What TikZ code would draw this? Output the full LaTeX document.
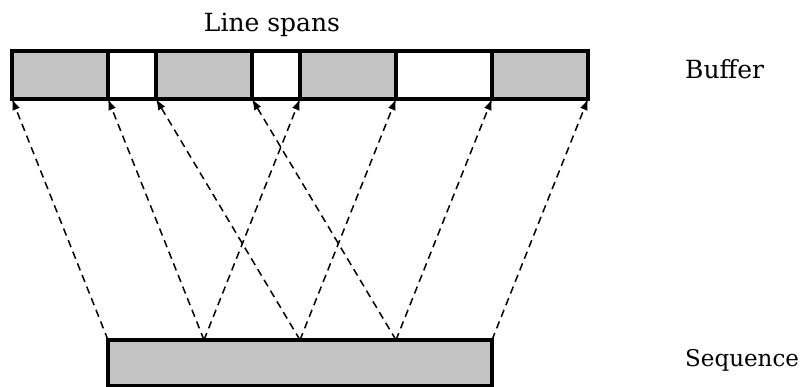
\documentclass[tikz,border=0pt]{standalone}
\usepackage{fontspec}
\setmainfont{DejaVu Serif}
\usetikzlibrary{arrows.meta,calc}
\definecolor{spangray}{RGB}{196,196,196}
\tikzstyle{cell}=[draw,line width=3.2pt,minimum height=48pt,inner sep=0pt,outer sep=0pt]
\tikzstyle{label}=[font=\fontsize{25}{30}\selectfont,inner sep=0pt]
\tikzstyle{link} = [draw,line width=1.5pt,dash pattern=on 7.5pt off 5pt,-{Latex[length=11pt,width=8pt]}]

\begin{document}
\begin{tikzpicture}[x=1pt,y=-1pt]
    \useasboundingbox (0,0) rectangle (803,387);
    % First we draw the buffer cells
    \foreach \pos/\cw/\col/\name in {{(60,75)/96/spangray/c1}, {(132,75)/48/white/c2},
        {(204,75)/96/spangray/c3}, {(276,75)/48/white/c4}, {(348,75)/96/spangray/c5},
        {(444,75)/96/white/c6}, {(540,75)/96/spangray/c7}}
        \node[cell,fill=\col,minimum width=\cw pt] (\name) at \pos {};
    % The sequence and the points on top of it
    \node[cell,fill=spangray,minimum width=384pt,minimum height=46pt] (seq) at (300,363) {};
    \coordinate (s1) at ($(seq.north west)!0.25!(seq.north east)$);
    \coordinate (s2) at ($(seq.north west)!0.5!(seq.north east)$);
    \coordinate (s3) at ($(seq.north west)!0.75!(seq.north east)$);
    % Labels
    \node[label,anchor=base] (spans) at (272,32) {Line spans};
    \node[label,anchor=base west] (buf) at (685,79) {Buffer};
    \node[label,anchor=base west,font=\fontsize{23}{28}\selectfont] (sequ) at (685,366) {Sequence};
    % Connect sequence with buffer
    \foreach \source/ \dest in {seq.north west/c1.south west, s1/c2.south west, s1/c5.south west,
        s2/c3.south west, s2/c6.south west, s3/c4.south west, s3/c7.south west,
        seq.north east/c7.south east}
        \path[link] (\source) -- (\dest) ;

\end{tikzpicture}
\end{document}
